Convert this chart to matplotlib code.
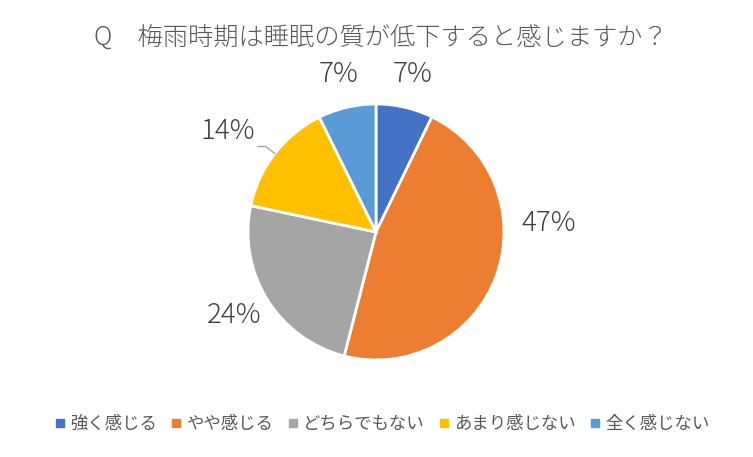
import matplotlib.pyplot as plt
from matplotlib.lines import Line2D
import numpy as np

plt.rcParams['font.family'] = ['Noto Sans CJK JP', 'DejaVu Sans']

title = 'Q　梅雨時期は睡眠の質が低下すると感じますか？'
categories = ['強く感じる', 'やや感じる', 'どちらでもない', 'あまり感じない', '全く感じない']
values = [7.2, 46.8, 24.3, 14.4, 7.3]
colors = ['#4472C4', '#ED7D31', '#A5A5A5', '#FFC000', '#5B9BD5']

# label placement (radius in pie radii, angle shift in degrees)
label_dist = [1.27, 1.35, 1.28, 1.40, 1.27]
label_shift = [0, 23, -1.5, 3.5, 0]

fig = plt.figure(figsize=(7.53, 4.57), dpi=100)
W, H = 753, 457
cx, cy, r = 376, 232, 128
half = 1.5 * r
ax = fig.add_axes([(cx - half) / W, (H - cy - half) / H, 2 * half / W, 2 * half / H])

wedges, _ = ax.pie(values, colors=colors, startangle=90, counterclock=False,
                   radius=1.0, wedgeprops=dict(edgecolor='white', linewidth=2))
ax.set_xlim(-1.5, 1.5)
ax.set_ylim(-1.5, 1.5)
ax.set_aspect('equal')
ax.axis('off')

total = sum(values)
for i, w in enumerate(wedges):
    mid = np.deg2rad((w.theta1 + w.theta2) / 2 + label_shift[i])
    d = label_dist[i]
    ax.text(d * np.cos(mid), d * np.sin(mid), f'{values[i] / total * 100:.0f}%',
            ha='center', va='center', fontsize=20, color='#404040', fontweight='light')

# leader line for the small yellow slice
w = wedges[3]
mid = np.deg2rad((w.theta1 + w.theta2) / 2)
p0 = np.array([np.cos(mid), np.sin(mid)])
p1 = p0 * 1.09
p2 = p1 + np.array([-0.06, 0])
ax.plot([p0[0], p1[0], p2[0]], [p0[1], p1[1], p2[1]], color='#A6A6A6', lw=1)

fig.text(0.5 + 4 / W, 1 - 37 / H, title, ha='center', va='center', fontsize=18.2,
         color='#595959', fontweight='light')

handles = [Line2D([], [], marker='s', ls='', color=c, markersize=6) for c in colors]
fig.legend(handles, categories, loc='center', bbox_to_anchor=(0.5 + 4 / W, 1 - 424 / H), ncol=5,
           frameon=False, fontsize=12.5, handletextpad=0.1, columnspacing=0.6,
           handlelength=1.0, labelcolor='#595959')

fig.savefig('out.png', dpi=100)
